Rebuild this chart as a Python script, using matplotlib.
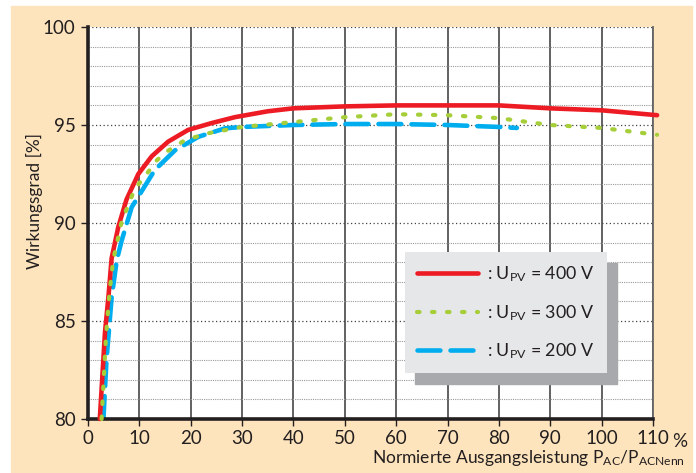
import matplotlib
matplotlib.use("Agg")
import matplotlib.pyplot as plt
from matplotlib.patches import Rectangle
from matplotlib.ticker import MultipleLocator

plt.rcParams['font.family'] = ['Lato', 'DejaVu Sans']
plt.rcParams['mathtext.fontset'] = 'custom'
plt.rcParams['mathtext.rm'] = 'Lato'
plt.rcParams['mathtext.it'] = 'Lato'

# Werte
x_400 = [2.3, 3.3, 4.0, 4.6, 5.9, 7.5, 9.8, 12.4, 15.6, 19.5, 24.1, 28.6, 35, 40, 50, 60, 70, 80, 90, 100, 110.8]
y_400 = [80, 84.4, 86.3, 88.2, 89.8, 91.2, 92.5, 93.4, 94.15, 94.75, 95.1, 95.4, 95.7, 95.85, 95.95, 96.0, 96.0, 96.0, 95.85, 95.75, 95.5]

x_300 = [2.65, 3.5, 4.2, 4.9, 6.55, 9.15, 10.8, 13.4, 15.3, 18.9, 23.4, 30, 40, 50, 60, 70, 80, 90, 100, 110.8]
y_300 = [80, 84.2, 86.5, 88.1, 90.07, 91.77, 92.28, 93.2, 93.64, 94.23, 94.58, 94.9, 95.15, 95.4, 95.55, 95.5, 95.35, 95.0, 94.85, 94.5]

x_200 = [3.0, 3.6, 4.6, 5.6, 6.55, 8.5, 10.8, 13.0, 16.9, 21.5, 26.7, 30, 40, 50, 60, 70, 80, 83.5]
y_200 = [80, 83, 86.2, 88.1, 89.1, 90.8, 91.77, 92.7, 93.7, 94.4, 94.83, 94.9, 95.0, 95.05, 95.05, 95.0, 94.9, 94.85]

labels = [r': U$_{\mathrm{PV}}$ = 400 V', r': U$_{\mathrm{PV}}$ = 300 V', r': U$_{\mathrm{PV}}$ = 200 V']
xticks = [0, 10, 20, 30, 40, 50, 60, 70, 80, 90, 100, 110]
yticks = [80, 85, 90, 95, 100]

textfarbe = '#231f20'
rot = '#ed1c24'
gruen = '#a6ce39'
blau = '#00aeef'

fig = plt.figure(figsize=(6.96, 4.73), dpi=100)
fig.patches.append(Rectangle((11 / 696, 0), 681 / 696, 1 - 6 / 473,
                             transform=fig.transFigure, color='#fee4bc', zorder=-10))

ax = fig.add_axes([88 / 696, 1 - 419 / 473, 565 / 696, 392 / 473])
ax.set_facecolor('white')
ax.set_xlim(0, 110)
ax.set_ylim(80, 100)

# Gitter
ax.yaxis.set_minor_locator(MultipleLocator(1))
ax.set_xticks(xticks)
ax.set_yticks(yticks)
ax.grid(axis='x', which='major', color='#555555', linestyle='-', linewidth=1.3)
ax.grid(axis='y', which='major', color='#444444', linestyle=(0, (1, 2)), linewidth=0.9)
ax.grid(axis='y', which='minor', color='#9a9a9a', linestyle=(0, (1, 1)), linewidth=0.8)
ax.set_axisbelow(True)

ax.spines['top'].set_visible(False)
ax.spines['right'].set_color('#666666')
ax.spines['right'].set_linewidth(1.3)
ax.spines['left'].set_linewidth(2.6)
ax.spines['bottom'].set_linewidth(2.6)
ax.spines['left'].set_color('#231f20')
ax.spines['bottom'].set_color('#231f20')

ax.tick_params(axis='both', which='major', direction='out', length=5, width=1,
               color=textfarbe, labelcolor=textfarbe, labelsize=13.5)
ax.tick_params(axis='y', which='minor', length=0)
ax.tick_params(axis='x', pad=3)
ax.tick_params(axis='y', pad=4)
ax.set_xticklabels([str(t) for t in xticks])
ax.annotate('%', xy=(1.0, 0.0), xycoords='axes fraction', xytext=(14, -10),
            textcoords='offset points', ha='left', va='top', fontsize=13.5, color=textfarbe)

ax.plot(x_400, y_400, color=rot, linewidth=3.3, solid_capstyle='round', solid_joinstyle='round',
        label=labels[0], zorder=3, clip_on=False)
ax.plot(x_300, y_300, color=gruen, linewidth=3.0, linestyle=(0, (0.6, 3.0)),
        dash_capstyle='round', label=labels[1], zorder=3, clip_on=False)
ax.plot(x_200, y_200, color=blau, linewidth=3.3, linestyle=(0, (5.0, 2.2)),
        dash_capstyle='round', label=labels[2], zorder=2)

ax.set_ylabel('Wirkungsgrad [%]', fontsize=12.5, color=textfarbe)
ax.set_xlabel(r'Normierte Ausgangsleistung P$_{\mathrm{AC}}$/P$_{\mathrm{ACNenn}}$',
              fontsize=12.5, color=textfarbe)
ax.xaxis.set_label_coords(0.78, -0.074)
ax.yaxis.set_label_coords(-0.08, 0.556)

leg = ax.legend(loc='upper left', bbox_to_anchor=(405 / 696, 1 - 252 / 473),
                bbox_transform=fig.transFigure, fontsize=12.8, frameon=True,
                fancybox=False, handlelength=3.4, handletextpad=0.5,
                labelspacing=1.05, borderpad=0.7, borderaxespad=0)
leg.get_frame().set_facecolor('#e6e7e8')
leg.get_frame().set_edgecolor('none')
leg.get_frame().set_alpha(1)
for t in leg.get_texts():
    t.set_color(textfarbe)
leg.set_zorder(6)

# Schatten hinter der Legende
fig.canvas.draw()
bb = leg.get_window_extent()
W, H = fig.canvas.get_width_height()
schatten = Rectangle(((bb.x0 + 10) / W, (bb.y0 - 11) / H), bb.width / W, bb.height / H,
                     transform=fig.transFigure, color='#a7a9ac', zorder=5, clip_on=False)
ax.add_patch(schatten)

fig.savefig('out.png', dpi=100, facecolor='white')
